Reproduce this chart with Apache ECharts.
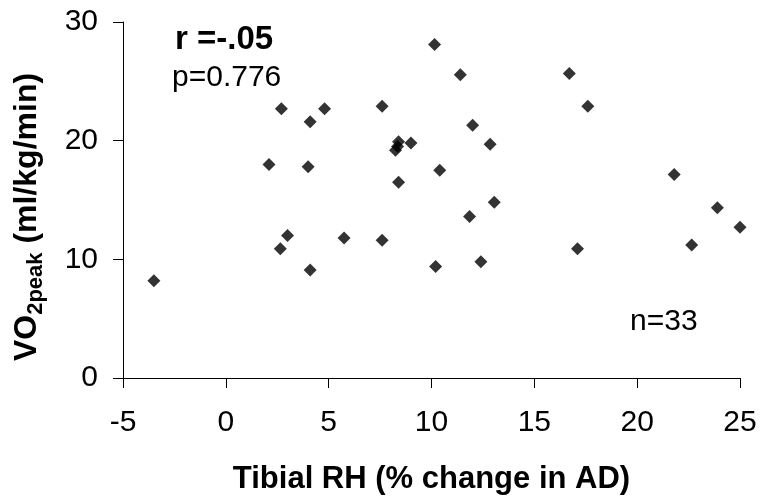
<!DOCTYPE html>
<html><head><meta charset="utf-8">
<script src="https://cdn.jsdelivr.net/npm/echarts@6/dist/echarts.min.js"></script>
<style>html,body{margin:0;padding:0;background:#fff}#c{width:763px;height:500px}</style>
</head><body><div id="c"></div>
<script>
// Tibial RH (% change in AD) vs VO2peak
const xValues = [-3.5, 2.1, 2.7, 2.65, 3.0, 4.0, 4.1, 4.1, 4.8, 5.75, 7.6, 7.6, 8.25, 8.4, 8.35, 8.4, 9.0, 10.15, 10.2, 10.4, 11.4, 11.85, 12.0, 12.4, 12.85, 13.05, 16.7, 17.1, 17.6, 21.8, 22.65, 23.9, 25.0];
const yValues = [8.2, 18.0, 22.7, 10.9, 12.0, 17.8, 21.6, 9.1, 22.7, 11.8, 22.9, 11.6, 19.2, 19.9, 19.5, 16.5, 19.8, 28.1, 9.4, 17.5, 25.55, 13.6, 21.3, 9.8, 19.7, 14.8, 25.65, 10.9, 22.9, 17.15, 11.2, 14.35, 12.7];
const xAxisRange = [-5, 25, 5];
const yAxisRange = [0, 30, 10];
const annotR = 'r =-.05';
const annotP = 'p=0.776';
const annotN = 'n=33';

const FONT = '"Liberation Sans", Arial, Helvetica, sans-serif';
const points = xValues.map((x, i) => [x, yValues[i]]);
const chart = echarts.init(document.getElementById('c'), null, {renderer: 'canvas'});
chart.setOption({
  animation: false,
  backgroundColor: '#fff',
  grid: {left: 123, right: 23, top: 22, bottom: 121, containLabel: false},
  xAxis: {
    type: 'value', min: xAxisRange[0], max: xAxisRange[1], interval: xAxisRange[2],
    name: 'Tibial RH (% change in AD)', nameLocation: 'middle', nameGap: 86,
    nameTextStyle: {fontFamily: FONT, fontSize: 31, fontWeight: 'bold', color: '#000'},
    axisLine: {show: true, onZero: false, lineStyle: {color: '#000', width: 1}},
    axisTick: {show: true, inside: false, length: 10, lineStyle: {color: '#000'}},
    axisLabel: {fontFamily: FONT, fontSize: 30, color: '#000', margin: 30},
    splitLine: {show: false}
  },
  yAxis: {
    type: 'value', min: yAxisRange[0], max: yAxisRange[1], interval: yAxisRange[2],
    name: '{a|VO}{s|2peak}{a| (ml/kg/min)}', nameLocation: 'middle', nameGap: 80, nameRotate: 90,
    nameTextStyle: {
      fontFamily: FONT, fontSize: 32, fontWeight: 'bold', color: '#000',
      padding: [0, 34, 0, 0],
      rich: {
        a: {fontFamily: FONT, fontSize: 32, fontWeight: 'bold', color: '#000', lineHeight: 38, verticalAlign: 'bottom'},
        s: {fontFamily: FONT, fontSize: 22, fontWeight: 'bold', color: '#000', lineHeight: 38, verticalAlign: 'bottom', padding: [0, 0, -4, 0]}
      }
    },
    axisLine: {show: true, onZero: false, lineStyle: {color: '#000', width: 1}},
    axisTick: {show: true, inside: false, length: 10, lineStyle: {color: '#000'}},
    axisLabel: {fontFamily: FONT, fontSize: 30, color: '#000', margin: 25},
    splitLine: {show: false}
  },
  graphic: [
    {type: 'text', left: 175, top: 23, style: {text: annotR, font: 'bold 33px ' + FONT, fill: '#000'}},
    {type: 'text', left: 172, top: 63, style: {text: annotP, font: '30px ' + FONT, fill: '#000'}},
    {type: 'text', left: 630, top: 307, style: {text: annotN, font: '30px ' + FONT, fill: '#000'}}
  ],
  series: [{
    type: 'scatter', data: points, symbol: 'diamond', symbolSize: 13,
    itemStyle: {color: '#000'}
  }]
});
</script></body></html>
